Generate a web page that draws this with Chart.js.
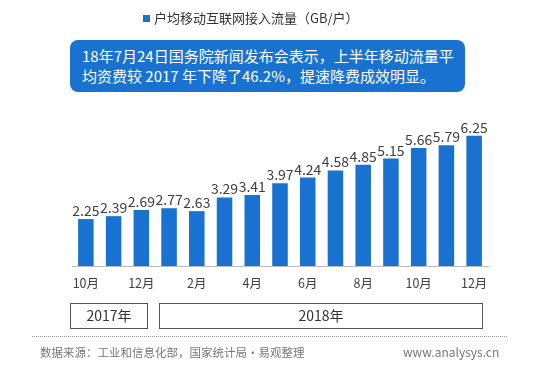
<!DOCTYPE html>
<html>
<head>
<meta charset="utf-8">
<script src="https://cdn.jsdelivr.net/npm/chart.js@4"></script>
<style>
  html, body { margin:0; padding:0; background:#fff; }
  body { width:546px; height:389px; position:relative; overflow:hidden; font-family:"Noto Sans CJK SC","Noto Sans",sans-serif; }
  #c { position:absolute; left:0; top:0; }
  .abs { position:absolute; white-space:nowrap; }
  #legend { left:143px; top:9px; font-size:13px; color:#333; line-height:18px; }
  #legend span.sq { display:inline-block; width:7px; height:7px; background:#1a72d0; margin-right:4px; vertical-align:1px; }
  #note { left:70px; top:40px; width:395px; height:52px; background:#1a72d0; border-radius:8px; color:#fff; font-size:15px; line-height:20px; box-sizing:border-box; padding:6px 0 0 12px; }
  .yr { border:1.5px solid #555; box-sizing:border-box; text-align:center; font-size:14px; color:#333; line-height:23px; height:26px; top:303px; }
  #y17 { left:70px; width:78px; }
  #y18 { left:159px; width:324px; }
  #sep { left:32px; top:336px; width:475px; height:0; border-top:1px dotted #999; }
  #src { left:40px; top:343px; font-size:11.5px; color:#777; line-height:18px; }
  #web { left:403px; top:343px; font-size:12px; color:#777; line-height:18px; }
</style>
</head>
<body>
<canvas id="c" width="546" height="389"></canvas>
<div id="legend" class="abs"><span class="sq"></span>户均移动互联网接入流量（GB/户）</div>
<div id="note" class="abs">18年7月24日国务院新闻发布会表示，上半年移动流量平<br>均资费较 2017 年下降了46.2%，提速降费成效明显。</div>
<div id="y17" class="abs yr">2017年</div>
<div id="y18" class="abs yr">2018年</div>
<div id="sep" class="abs"></div>
<div id="src" class="abs">数据来源：工业和信息化部，国家统计局·易观整理</div>
<div id="web" class="abs">www.analysys.cn</div>
<script>
const months = ['10月','11月','12月','1月','2月','3月','4月','5月','6月','7月','8月','9月','10月','11月','12月'];
const traffic = [2.25, 2.39, 2.69, 2.77, 2.63, 3.29, 3.41, 3.97, 4.24, 4.58, 4.85, 5.15, 5.66, 5.79, 6.25];
const seriesName = '户均移动互联网接入流量（GB/户）';

const valueLabels = {
  id: 'valueLabels',
  afterDatasetsDraw(chart) {
    const ctx = chart.ctx;
    const meta = chart.getDatasetMeta(0);
    ctx.save();
    ctx.font = '14px "Noto Sans CJK SC", "Noto Sans", sans-serif';
    ctx.fillStyle = '#404040';
    ctx.textAlign = 'center';
    ctx.textBaseline = 'alphabetic';
    meta.data.forEach((bar, i) => {
      ctx.fillText(traffic[i].toFixed(2), bar.x, bar.y - 3);
    });
    ctx.restore();
  }
};

new Chart(document.getElementById('c'), {
  type: 'bar',
  data: {
    labels: months,
    datasets: [{
      label: seriesName,
      data: traffic,
      backgroundColor: '#1a72d0',
      borderWidth: 0,
      barPercentage: 0.56,
      categoryPercentage: 1.0
    }]
  },
  options: {
    responsive: false,
    animation: false,
    layout: { padding: { left: 72, right: 58, top: 120, bottom: 0 } },
    plugins: { legend: { display: false }, tooltip: { enabled: false } },
    scales: {
      x: {
        grid: { display: false, drawTicks: false },
        border: { display: true, color: '#bbbbbb', width: 1 },
        ticks: {
          autoSkip: false,
          maxRotation: 0,
          padding: 10,
          color: '#404040',
          font: { size: 12.5, family: '"Noto Sans CJK SC", "Noto Sans", sans-serif' },
          callback: function(v, i) { return i % 2 === 0 ? months[i] : ''; }
        },
        afterFit(scale) { scale.height = 123; }
      },
      y: { display: false, min: 0, max: 7 }
    }
  },
  plugins: [valueLabels]
});
</script>
</body>
</html>
